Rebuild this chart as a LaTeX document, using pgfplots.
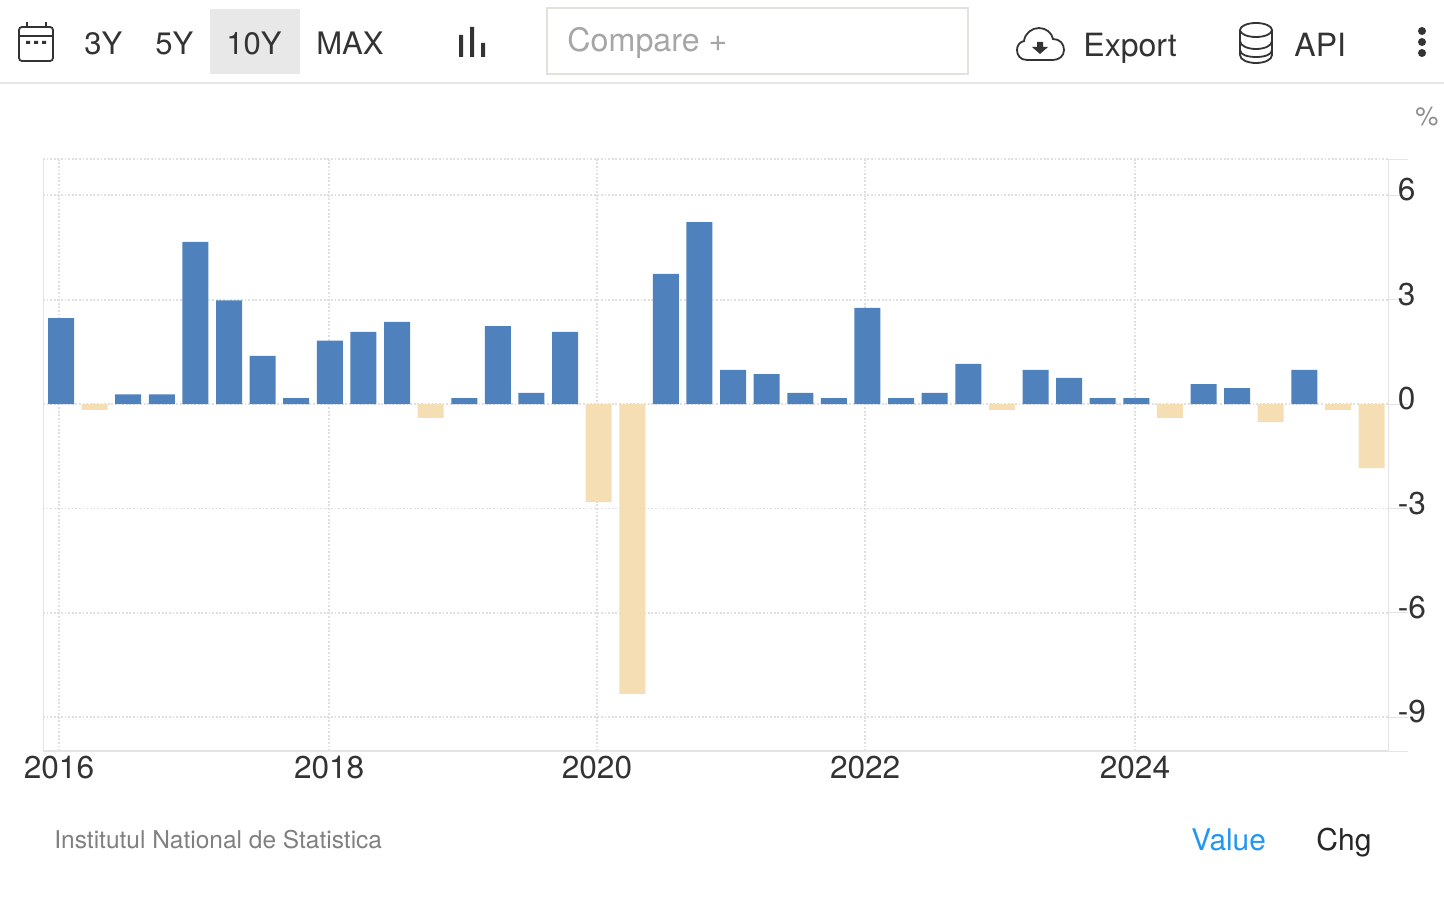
\documentclass[border=0pt]{standalone}
\usepackage{fontspec}
\setmainfont{TeX Gyre Heros}
\usepackage{pgfplots}
\pgfplotsset{compat=1.18}

\definecolor{barblue}{HTML}{4F81BD}
\definecolor{barneg}{HTML}{F5DEB3}
\definecolor{gridc}{HTML}{E0E0E0}
\definecolor{axisc}{HTML}{E4E4E4}
\definecolor{boxc}{HTML}{E2E2DA}
\definecolor{sepc}{HTML}{E6E6EA}
\definecolor{txt}{HTML}{333333}
\definecolor{icon}{HTML}{333333}

\newcommand{\fs}[1]{\fontsize{#1}{#1}\selectfont}

\begin{document}
\begin{tikzpicture}[x=0.5pt,y=-0.5pt]
  \path[use as bounding box] (0,0) rectangle (1444,898);

  % ----------------------------------------------------------
  % Toolbar
  % ----------------------------------------------------------
  \fill[black!9] (210,9) rectangle (300,74);
  \draw[sepc,line width=1pt] (0,83) -- (1444,83);
  \draw[boxc,line width=1pt] (547,8) rectangle (968,74);

  \node[anchor=base west,inner sep=0,text=txt] at (84,55) {\fs{15.5}3Y};
  \node[anchor=base west,inner sep=0,text=txt] at (155,55) {\fs{15.5}5Y};
  \node[anchor=base west,inner sep=0,text=txt] at (226,55) {\fs{15.5}10Y};
  \node[anchor=base west,inner sep=0,text=txt] at (316,55) {\fs{15.5}MAX};
  \node[anchor=base west,inner sep=0,text=black!35] at (567,52) {\fs{16.1}Compare +};
  \node[anchor=base west,inner sep=0,text=txt] at (1083,57) {\fs{16}Export};
  \node[anchor=base west,inner sep=0,text=txt] at (1294,57) {\fs{16}API};
  \node[anchor=base west,inner sep=0,text=black!45] at (1415,126) {\fs{13}\%};

  % calendar
  \draw[icon,line width=0.9pt,rounded corners=1.5pt] (19,27) rectangle (53,61);
  \draw[icon,line width=0.9pt] (19,36) -- (53,36) (27,22) -- (27,27) (46,22) -- (46,27);
  \fill[icon] (26,41) rectangle (30,44) (34,41) rectangle (38,44) (42,41) rectangle (46,44);

  % bar chart icon
  \fill[icon] (459,35) rectangle (463,57) (470,27) rectangle (474,57) (481,43) rectangle (485,57);

  % cloud
  \draw[icon,line width=0.9pt] (1027,60) .. controls (1020,60) and (1017,55) .. (1017,50)
    .. controls (1017,45) and (1020,42) .. (1024,41)
    .. controls (1025,33) and (1032,28) .. (1039,28)
    .. controls (1046,28) and (1052,33) .. (1053,39)
    .. controls (1060,39) and (1064,44) .. (1064,50)
    .. controls (1064,56) and (1059,60) .. (1053,60) -- cycle;
  \fill[icon] (1037,42) rectangle (1043,47) (1032,47) -- (1048,47) -- (1040,54) -- cycle;

  % database
  \draw[icon,line width=0.9pt] (1256,30) ellipse [x radius=16,y radius=7];
  \draw[icon,line width=0.9pt] (1240,30) -- (1240,55) .. controls (1240,60) and (1248,63) .. (1256,63)
    .. controls (1264,63) and (1272,60) .. (1272,55) -- (1272,30);
  \draw[icon,line width=0.9pt] (1240,41) .. controls (1240,46) and (1248,49) .. (1256,49)
    .. controls (1264,49) and (1272,46) .. (1272,41);
  \draw[icon,line width=0.9pt] (1240,50) .. controls (1240,55) and (1248,57) .. (1256,57)
    .. controls (1264,57) and (1272,55) .. (1272,50);

  % menu dots
  \fill[icon] (1422,31) circle [radius=4] (1422,42) circle [radius=4] (1422,53) circle [radius=4];

  % ----------------------------------------------------------
  % Footer
  % ----------------------------------------------------------
  \node[anchor=base west,inner sep=0,text=black!50] at (54,848) {\fs{12.25}Institutul National de Statistica};
  \node[anchor=base west,inner sep=0,text={rgb,255:red,33;green,150;blue,243}] at (1191,850) {\fs{14.9}Value};
  \node[anchor=base west,inner sep=0,text=black!85] at (1316,850) {\fs{15}Chg};

  % ----------------------------------------------------------
  % Quarterly bars, x is the quarter index from 2016Q1
  % ----------------------------------------------------------
  \begin{axis}[
    at={(21.5pt,-375.5pt)}, anchor=south west,
    scale only axis,
    width=673pt, height=296pt,
    xmin=-0.536, xmax=39.52,
    ymin=-9.97, ymax=7.04,
    xtick={-0.06,7.98,15.95,23.93,31.96},
    xticklabels={2016,2018,2020,2022,2024},
    ytick={-9,-6,-3,0,3,6},
    yticklabels={-9,-6,-3,0,3,6},
    extra y ticks={-9.97,7.04},
    extra y tick labels={},
    xtick pos=bottom, ytick pos=right,
    tick align=outside,
    major tick length=9.5pt,
    xmajorgrids=true, ymajorgrids=true,
    grid style={gridc,line width=0.9pt,dash pattern=on 0.9pt off 0.9pt},
    extra tick style={grid style={gridc,line width=0.9pt,dash pattern=on 0.9pt off 0.9pt}},
    axis line style={draw=none},
    xtick style={draw=none},
    ytick style={draw=axisc,line width=0.5pt},
    every tick label/.append style={font=\fs{15.8},text=txt},
    xticklabel style={anchor=base,inner sep=0pt,yshift=-4pt},
    yticklabel style={anchor=base west,inner sep=0pt,yshift=-2.8pt,xshift=-5.3pt},
    ybar, bar shift=0pt, bar width=13pt,
  ]
    \addplot[draw=none,fill=barblue] coordinates {
      (0,2.47) (2,0.28) (3,0.28) (4,4.66) (5,2.98) (6,1.38) (7,0.17) (8,1.82)
      (9,2.07) (10,2.36) (12,0.17) (13,2.24) (14,0.32) (15,2.07) (18,3.74)
      (19,5.23) (20,0.98) (21,0.86) (22,0.32) (23,0.17) (24,2.76) (25,0.17)
      (26,0.32) (27,1.15) (29,0.98) (30,0.75) (31,0.17) (32,0.17) (34,0.57)
      (35,0.46) (37,0.98)
    };
    \addplot[draw=none,fill=barneg] coordinates {
      (1,-0.17) (11,-0.40) (16,-2.82) (17,-8.33) (28,-0.17) (33,-0.40)
      (36,-0.52) (38,-0.17) (39,-1.84)
    };
    \draw[axisc,line width=1pt] (rel axis cs:0,0) -- (rel axis cs:0,1);
    \draw[axisc,line width=1pt] (rel axis cs:0,0) -- (rel axis cs:1,0) -- (rel axis cs:1,1);
  \end{axis}
\end{tikzpicture}
\end{document}
